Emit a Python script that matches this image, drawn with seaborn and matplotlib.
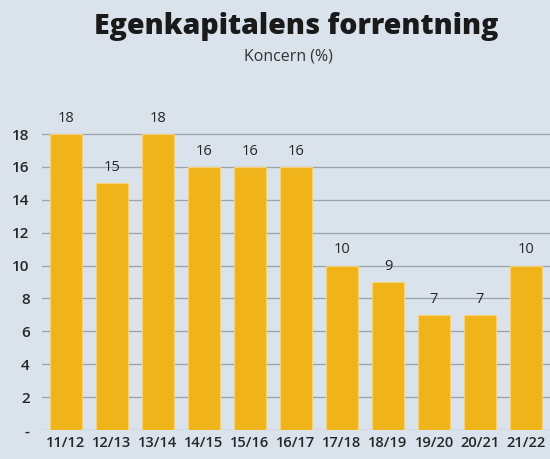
import matplotlib
matplotlib.use("Agg")
import matplotlib.pyplot as plt
import seaborn as sns
import pandas as pd

# Data
periods = ["11/12", "12/13", "13/14", "14/15", "15/16", "16/17",
           "17/18", "18/19", "19/20", "20/21", "21/22"]
roe = [18, 15, 18, 16, 16, 16, 10, 9, 7, 7, 10]
ytick_vals = [0, 2, 4, 6, 8, 10, 12, 14, 16, 18]
ytick_labels = ["-", "2", "4", "6", "8", "10", "12", "14", "16", "18"]

bg = "#DAE3EB"
bar_color = "#F0B31A"
text_color = "#262626"

sns.set_theme(style="white")
plt.rcParams["font.family"] = ["Open Sans", "DejaVu Sans"]

df = pd.DataFrame({"period": periods, "roe": roe})

fig = plt.figure(figsize=(5.5, 4.59), dpi=100)
fig.patch.set_facecolor(bg)
ax = fig.add_axes([0.0764, 0.0632, 0.9236, 0.6985])
ax.set_facecolor(bg)

sns.barplot(data=df, x="period", y="roe", color=bar_color, width=0.7,
            saturation=1, edgecolor="#F7D27A", linewidth=0.8, ax=ax, zorder=3)

# value labels above bars
ax.bar_label(ax.containers[0], labels=[str(v) for v in roe], padding=6,
             fontsize=10.5, color=text_color, fontweight="medium")

ax.set_ylim(0, 19.5)
ax.set_xlim(-0.52, 10.52)
ax.set_yticks(ytick_vals)
ax.set_yticklabels(ytick_labels, fontsize=11, color=text_color, fontweight="semibold")
ax.tick_params(axis="x", labelsize=10.5, colors=text_color, length=0, pad=4)
for lbl in ax.get_xticklabels():
    lbl.set_fontweight("semibold")
ax.tick_params(axis="y", length=0, pad=9)
ax.yaxis.grid(True, color="#98A3AD", linewidth=0.9, zorder=0)
ax.set_axisbelow(True)
ax.set_xlabel("")
ax.set_ylabel("")
for s in ax.spines.values():
    s.set_visible(False)

fig.text(0.538, 0.943, "Egenkapitalens forrentning", ha="center", va="center",
         fontsize=20.5, fontweight="heavy", color="#1A1A1A")
fig.text(0.525, 0.876, "Koncern (%)", ha="center", va="center",
         fontsize=11.5, color="#333333")

fig.savefig("out.png", dpi=100, facecolor=bg)
